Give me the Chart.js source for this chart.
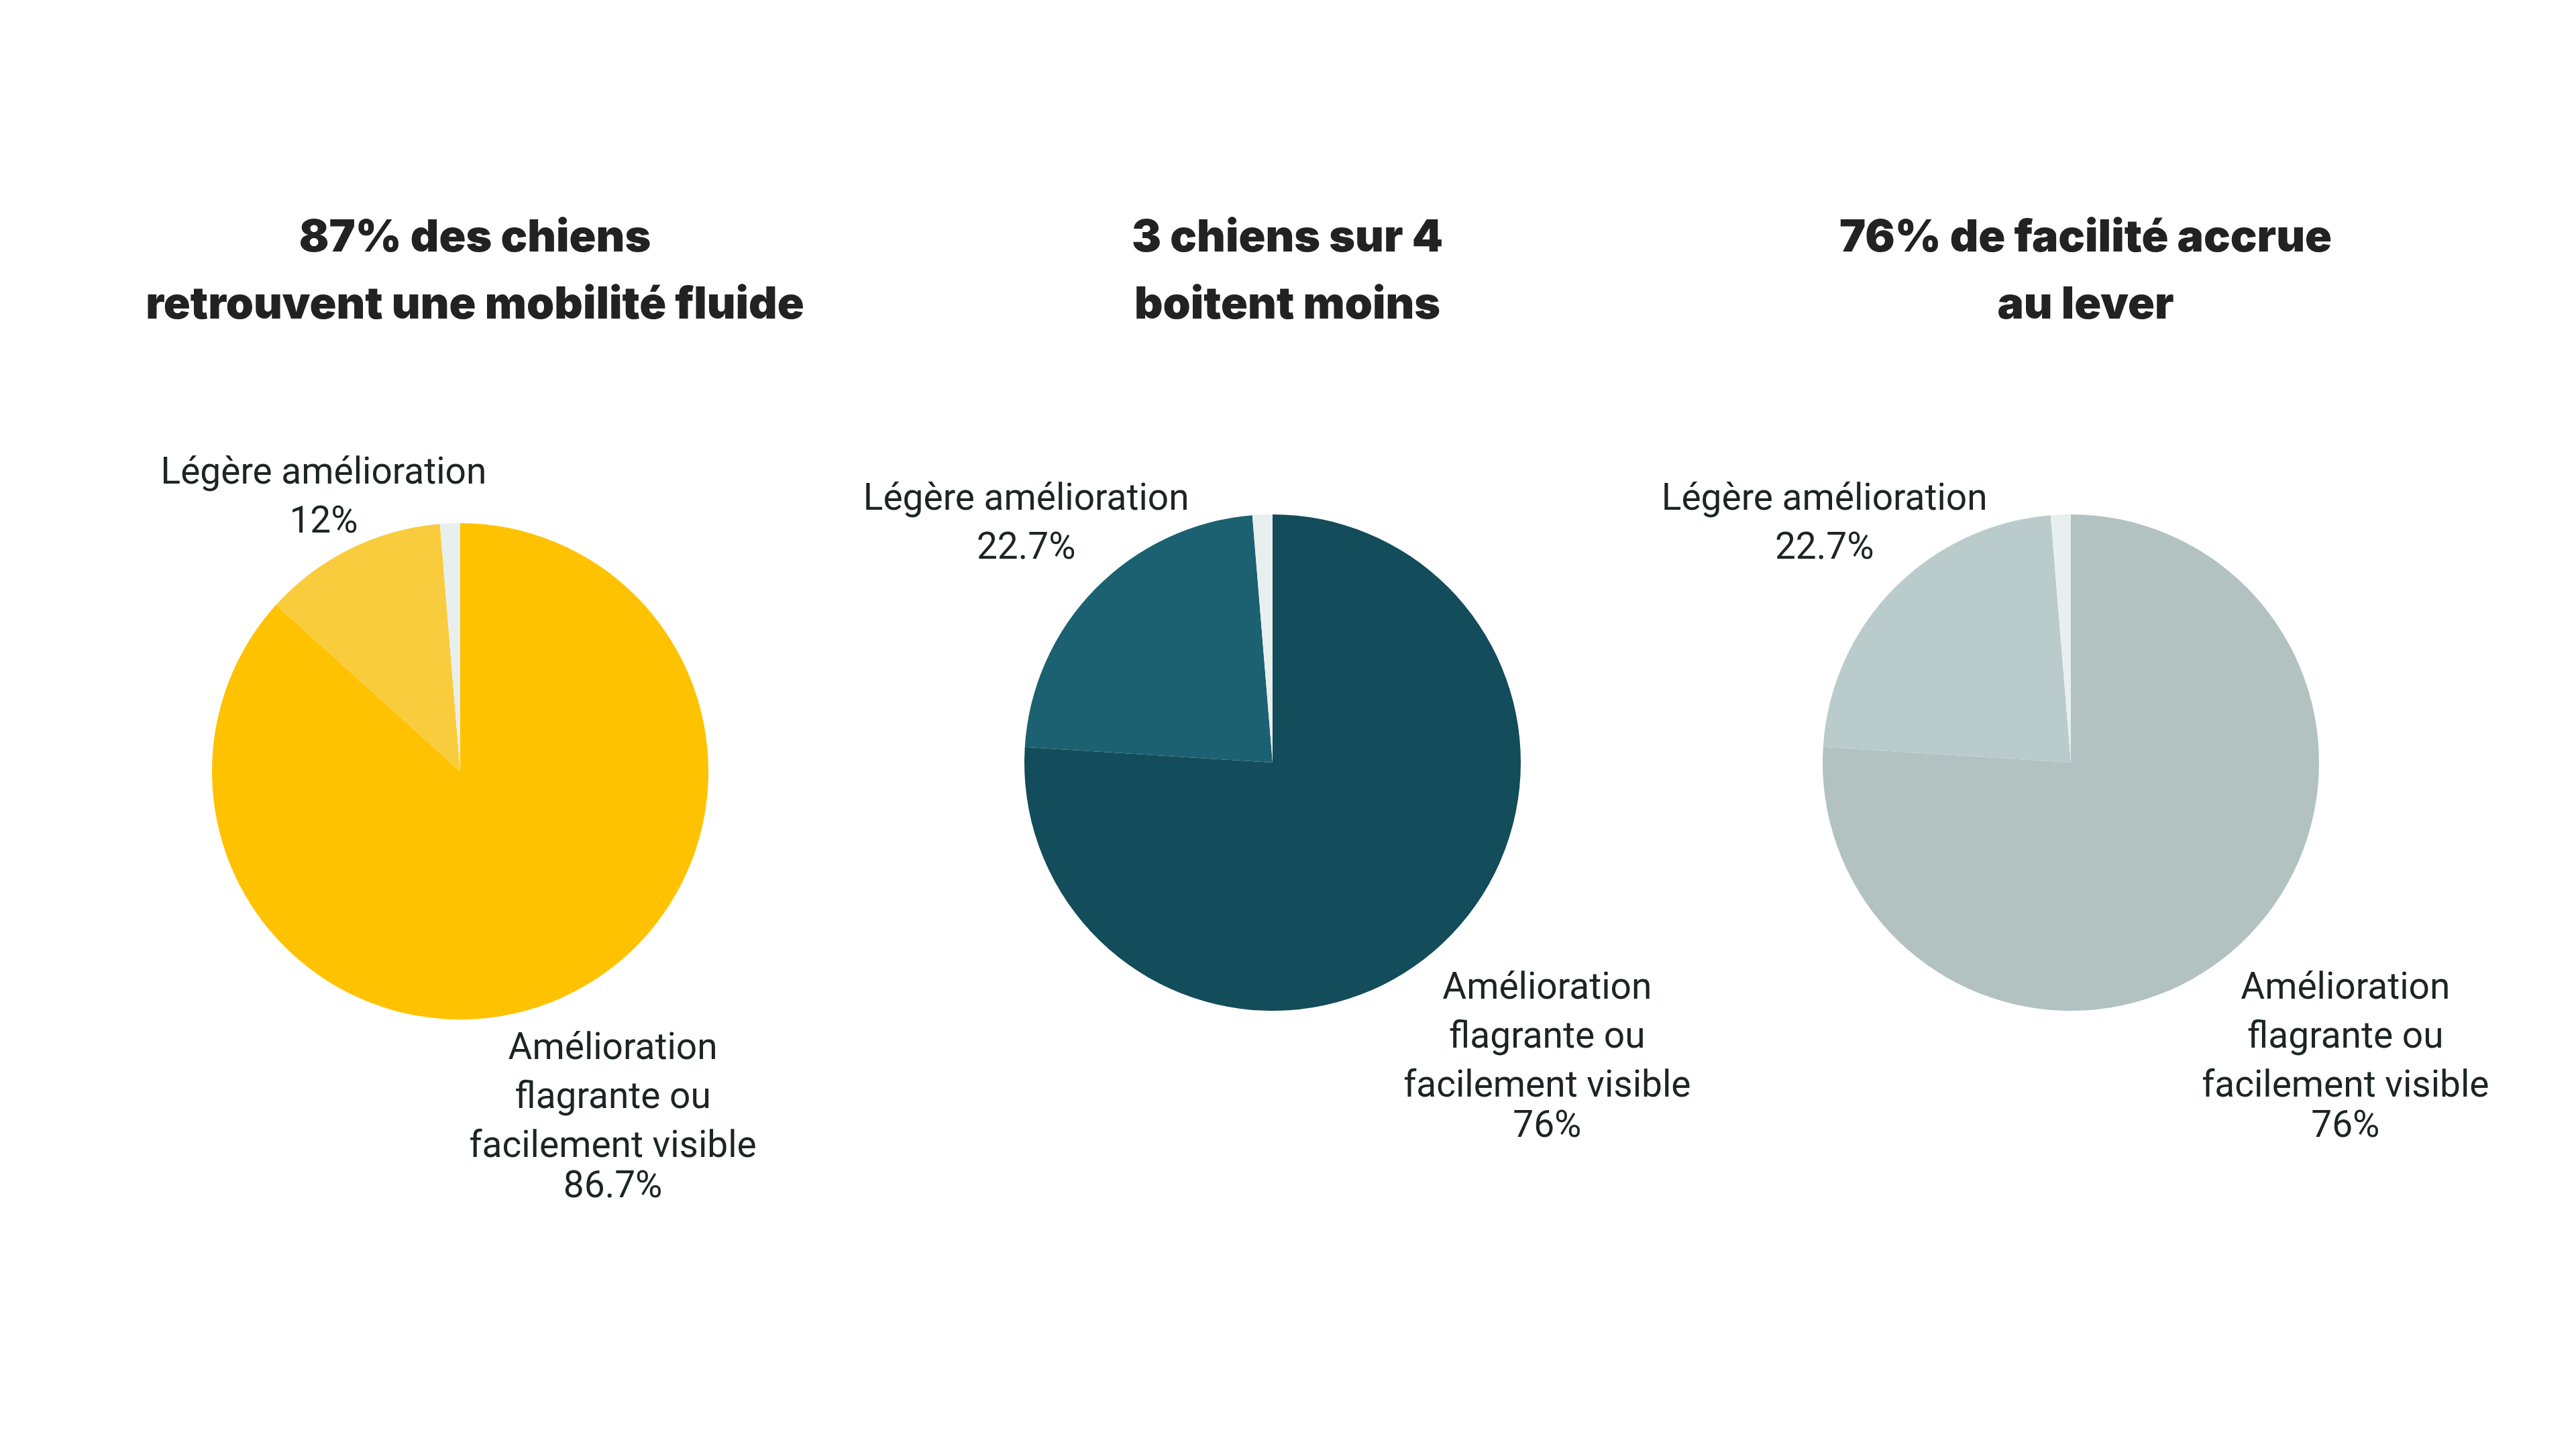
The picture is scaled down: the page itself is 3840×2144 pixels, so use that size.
<!DOCTYPE html>
<html><head><meta charset="utf-8">
<script src="https://cdn.jsdelivr.net/npm/chart.js@4.4.1/dist/chart.umd.min.js"></script>
<style>
html,body{margin:0;padding:0;background:#ffffff;}
body{width:3840px;height:2144px;position:relative;overflow:hidden;}
.w{position:absolute;top:0;width:1280px;height:2144px;}
</style></head><body>
<div class="w" id="w1" style="left:46px"><canvas id="c1"></canvas></div>
<div class="w" id="w2" style="left:1257px"><canvas id="c2"></canvas></div>
<div class="w" id="w3" style="left:2447px"><canvas id="c3"></canvas></div>
<script>
// ---- data ----
const categories = ['Amélioration flagrante ou facilement visible', 'Légère amélioration', 'Aucune amélioration'];
const labelLines = [['Amélioration', 'flagrante ou', 'facilement visible'], ['Légère amélioration'], []];
const titleMobilite = ['87% des chiens', 'retrouvent une mobilité fluide'];
const titleBoiterie = ['3 chiens sur 4', 'boitent moins'];
const titleLever = ['76% de facilité accrue', 'au lever'];
const mobiliteValues = [86.7, 12, 1.3];
const boiterieValues = [76, 22.7, 1.3];
const leverValues = [76, 22.7, 1.3];
const coloursYellow = ['#FFC200', '#F9CC3E', '#E8EFEF'];
const coloursTeal = ['#134C5A', '#1B6171', '#E8EFEF'];
const coloursGrey = ['#B1C2C1', '#BACBCB', '#E8EFEF'];

// ---- plugins ----
const sliceLabels = {
  id: 'sliceLabels',
  afterDatasetsDraw(chart, args, opts) {
    const ctx = chart.ctx;
    const meta = chart.getDatasetMeta(0);
    const data = chart.data.datasets[0].data;
    ctx.save();
    ctx.font = opts.size + 'px ' + opts.family;
    ctx.fillStyle = opts.color;
    ctx.textAlign = 'center';
    ctx.textBaseline = 'alphabetic';
    meta.data.forEach((arc, i) => {
      const lines = opts.lines[i];
      if (!lines || !lines.length) return;
      const all = lines.concat([data[i] + '%']);
      const spacing = all.map((_, k) => k === 0 ? 0 : (k === all.length - 1 && lines.length > 1 ? opts.pctSpacing : opts.lineSpacing));
      let h = opts.cap, w = 0;
      spacing.forEach(s => h += s);
      all.forEach(t => w = Math.max(w, ctx.measureText(t).width));
      const p = arc.getProps(['x', 'y', 'startAngle', 'endAngle', 'outerRadius'], true);
      const mid = (p.startAngle + p.endAngle) / 2;
      const dx = Math.cos(mid), dy = Math.sin(mid);
      const d = p.outerRadius + opts.gaps[i] + Math.abs(dx) * w / 2 + Math.abs(dy) * h / 2;
      const cx = p.x + dx * d, cy = p.y + dy * d;
      let by = cy - h / 2 + opts.cap;
      all.forEach((t, k) => { by += spacing[k]; ctx.fillText(t, cx, by); });
    });
    ctx.restore();
  }
};
const titleShift = {
  id: 'titleShift',
  afterLayout(chart, args, opts) {
    const t = chart.titleBlock;
    if (t) { t.left += opts.dx; t.right += opts.dx; }
  }
};

function makePie(id, title, values, colours, titlePadBottom, layoutPadBottom) {
  return new Chart(document.getElementById(id), {
    type: 'pie',
    data: {
      labels: categories,
      datasets: [{ data: values, backgroundColor: colours, borderWidth: 0, hoverOffset: 0 }]
    },
    plugins: [sliceLabels, titleShift],
    options: {
      responsive: true,
      maintainAspectRatio: false,
      animation: false,
      events: [],
      layout: { padding: { top: 0, left: 0, right: 0, bottom: layoutPadBottom } },
      plugins: {
        legend: { display: false },
        tooltip: { enabled: false },
        title: {
          display: true,
          text: title,
          color: '#222222',
          font: { family: 'Inter', size: 66, weight: '900', lineHeight: 100 / 66 },
          padding: { top: 305, bottom: titlePadBottom }
        },
        titleShift: { dx: 22 },
        sliceLabels: {
          lines: labelLines,
          family: 'Roboto',
          size: 55,
          color: '#1d2424',
          cap: 39,
          lineSpacing: 73,
          pctSpacing: 60,
          gaps: [-8, -68, 0]
        }
      }
    }
  });
}

makePie('c1', titleMobilite, mobiliteValues, coloursYellow, 275, 624);
makePie('c2', titleBoiterie, boiterieValues, coloursTeal, 262, 637);
makePie('c3', titleLever, leverValues, coloursGrey, 262, 637);
</script>
</body></html>
